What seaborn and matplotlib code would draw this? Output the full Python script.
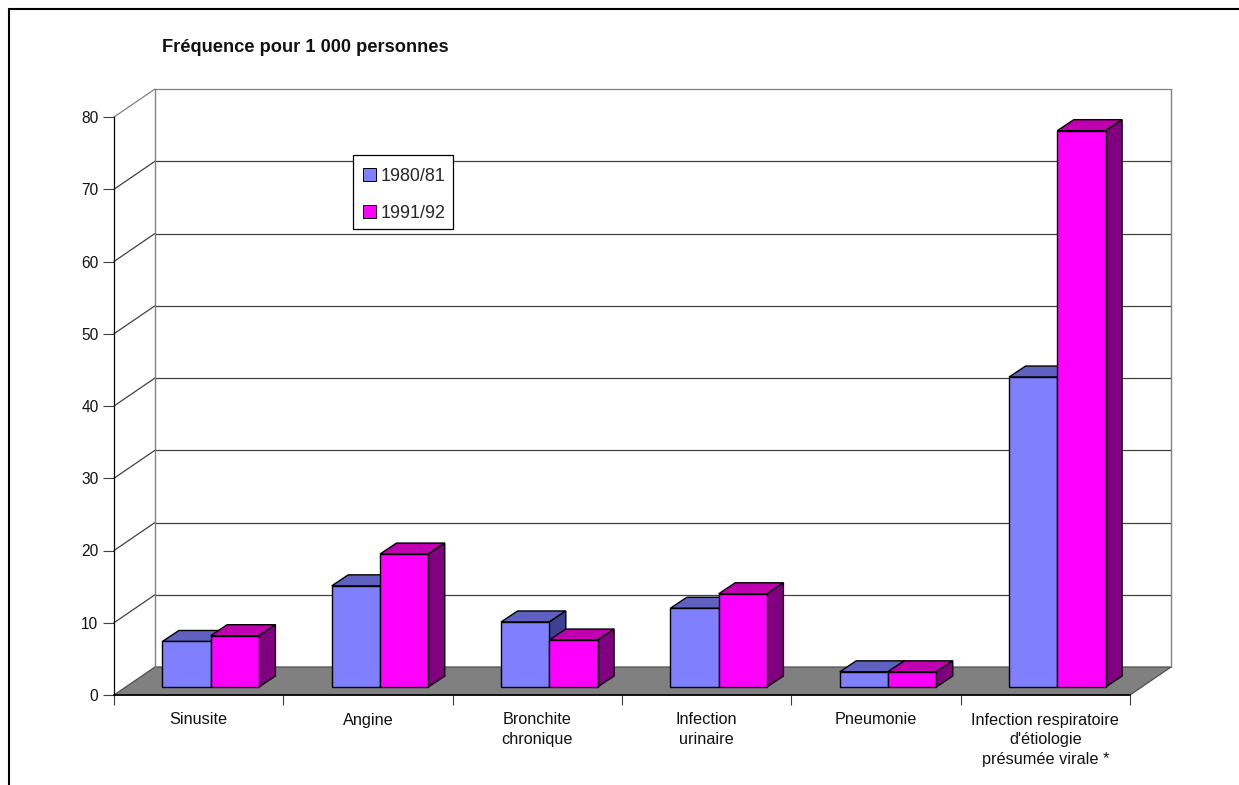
import matplotlib
matplotlib.use("Agg")
import matplotlib.pyplot as plt
import pandas as pd
import seaborn as sns
from matplotlib.lines import Line2D
from matplotlib.patches import Patch, Polygon, Rectangle

categories = ["Sinusite", "Angine", "Bronchite\nchronique", "Infection\nurinaire", "Pneumonie",
              "Infection respiratoire\nd'étiologie\nprésumée virale *"]
values_1980 = [6.3, 14.0, 9.0, 10.9, 2.1, 42.9]
values_1991 = [7.1, 18.4, 6.5, 12.9, 2.1, 77.0]
periods = ["1980/81", "1991/92"]
y_ticks = [0, 10, 20, 30, 40, 50, 60, 70, 80]

W, H = 1239, 785
FRONT = "#8080ff"
FRONT2 = "#ff00ff"
TOP = {FRONT: "#6060c0", FRONT2: "#c000b0"}
SIDE = {FRONT: "#404090", FRONT2: "#800080"}

sns.set_theme(style="white")
plt.rcParams["font.family"] = ["Liberation Sans", "DejaVu Sans"]

fig = plt.figure(figsize=(W / 100, H / 100), dpi=100, facecolor="white")
ax = fig.add_axes([114 / W, 1 - 695 / H, 1016 / W, 578 / H])
ax.patch.set_alpha(0)

df = pd.DataFrame({"cat": categories * 2,
                   "val": values_1980 + values_1991,
                   "period": [periods[0]] * 6 + [periods[1]] * 6})
sns.barplot(data=df, x="cat", y="val", hue="period", hue_order=periods,
            palette=[FRONT, FRONT2], width=0.57, dodge=True, legend=False,
            saturation=1, ax=ax, zorder=4)
ax.set_xlim(-0.5, 5.5)
ax.set_ylim(0, 80)

# pixel lengths expressed in data units, for the oblique depth of the box
px_x = 6 / 1016
px_y = 80 / 578
wall_dx, wall_dy = 41 * px_x, 28 * px_y
bar_sx, bar_sy = 12.0 * px_x, 8 * px_y
bar_dx, bar_dy = 16.5 * px_x, 11 * px_y

x0, x1 = -0.5, 5.5

# floor
ax.add_patch(Polygon([(x0, 0), (x1, 0), (x1 + wall_dx, wall_dy), (x0 + wall_dx, wall_dy)],
                     closed=True, fc="#808080", ec="#505050", lw=0.9, clip_on=False, zorder=1))
# back wall and side wall grid
for v in y_ticks[1:]:
    col = "#808080" if v == 80 else "#404040"
    ax.plot([x0 + wall_dx, x1 + wall_dx], [v + wall_dy] * 2, color=col, lw=0.9, clip_on=False, zorder=1)
    ax.plot([x0, x0 + wall_dx], [v, v + wall_dy], color=col, lw=0.9, clip_on=False, zorder=1)
ax.plot([x0 + wall_dx] * 2, [wall_dy, 80 + wall_dy], color="#808080", lw=1.0, clip_on=False, zorder=1)
ax.plot([x1 + wall_dx] * 2, [wall_dy, 80 + wall_dy], color="#808080", lw=1.0, clip_on=False, zorder=1)

# shift each bar onto the floor and give it a top and a side face
n = 0
for bar in ax.patches:
    if isinstance(bar, Polygon):
        continue
    color = FRONT if n < 6 else FRONT2
    z = 4 + 2 * (n >= 6)
    n += 1
    bar.set_x(bar.get_x() + bar_sx)
    bar.set_y(bar_sy)
    bar.set_edgecolor("black")
    bar.set_linewidth(1.0)
    bar.set_clip_on(False)
    bar.set_zorder(z + 1)
    xl, xr = bar.get_x(), bar.get_x() + bar.get_width()
    yb, yt = bar_sy, bar_sy + bar.get_height()
    ax.add_patch(Polygon([(xl, yt), (xr, yt), (xr + bar_dx, yt + bar_dy), (xl + bar_dx, yt + bar_dy)],
                         closed=True, fc=TOP[color], ec="black", lw=1.0, clip_on=False, zorder=z))
    ax.add_patch(Polygon([(xr, yb), (xr + bar_dx, yb + bar_dy), (xr + bar_dx, yt + bar_dy), (xr, yt)],
                         closed=True, fc=SIDE[color], ec="black", lw=1.0, clip_on=False, zorder=z))

# axes and ticks
for s in ("top", "right"):
    ax.spines[s].set_visible(False)
ax.spines["left"].set_color("black")
ax.spines["left"].set_linewidth(0.9)
ax.spines["bottom"].set_color("black")
ax.spines["bottom"].set_linewidth(1.2)
ax.set_xlabel("")
ax.set_ylabel("")
ax.set_yticks(y_ticks)
ax.set_xticks(range(6))
ax.set_xticklabels(categories, fontsize=11.7, color="#111111", linespacing=1.41)
ax.set_xticks([i - 0.5 for i in range(7)], minor=True)
ax.tick_params(axis="x", which="major", length=0, pad=12.6, bottom=False)
ax.tick_params(axis="x", which="minor", length=7.5, width=0.8, color="#404040", bottom=True)
ax.tick_params(axis="y", which="major", length=8, width=0.8, color="#404040", left=True,
               pad=3.2, labelsize=11.2, labelcolor="#111111")

fig.text(162 / W, 1 - 48 / H, "Fréquence pour 1 000 personnes", fontsize=13.15,
         fontweight="bold", color="#111111", ha="left", va="center")

# legend box drawn separately so its size stays fixed around the entries
ax.add_patch(Rectangle((353 / W, 1 - 229 / H), 100 / W, 74 / H, transform=fig.transFigure,
                       fc="white", ec="black", lw=0.9, clip_on=False, zorder=9))
handles = [Patch(fc=FRONT, ec="black", lw=0.7), Patch(fc=FRONT2, ec="black", lw=0.7)]
leg = ax.legend(handles, periods, loc="upper left", bbox_to_anchor=(363 / W, 1 - 168 / H),
                bbox_transform=fig.transFigure, fontsize=12.9, frameon=False,
                borderaxespad=0, borderpad=0,
                labelspacing=1.09, handlelength=0.7, handleheight=0.7, handletextpad=0.27)
leg.set_zorder(10)

# outer frame, open on the right and at the bottom
fig.add_artist(Line2D([9 / W, 1], [1 - 9 / H, 1 - 9 / H], color="black", lw=1.5))
fig.add_artist(Line2D([9 / W, 9 / W], [0, 1 - 9 / H], color="black", lw=1.5))

fig.savefig("out.png", dpi=100, facecolor="white")
